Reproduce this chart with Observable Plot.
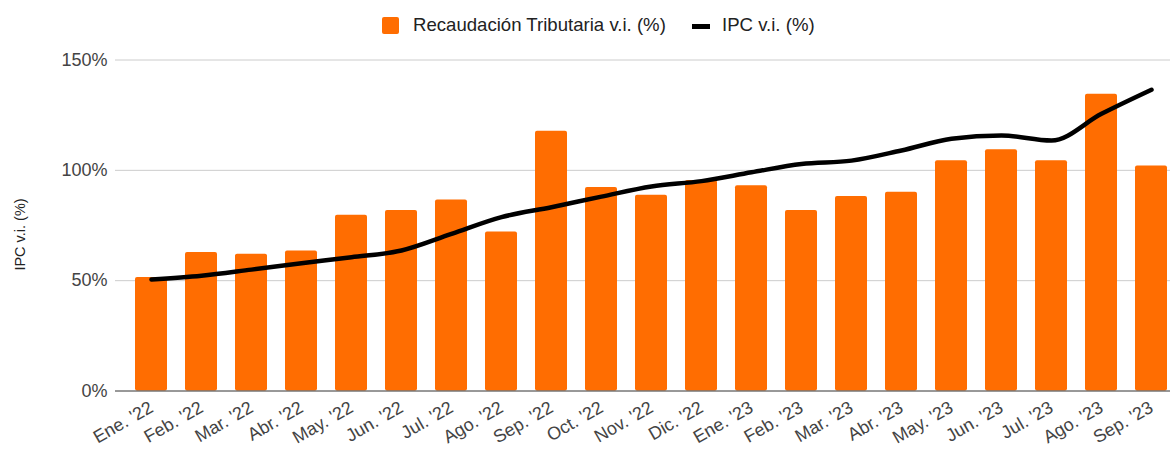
<!DOCTYPE html>
<html><head><meta charset="utf-8">
<script src="https://cdn.jsdelivr.net/npm/d3@7"></script>
<script src="https://cdn.jsdelivr.net/npm/@observablehq/plot@0.6"></script>
<style>
body{margin:0;background:#fff;font-family:Arial,"Liberation Sans",sans-serif;}
#legend{position:relative;height:40px;width:1170px;font-size:18.6px;color:#222;}
#legend .sw{position:absolute;}
#legend .tx{position:absolute;top:14px;line-height:22px;white-space:nowrap;}
#chart svg{display:block;}
</style></head><body>
<div id="legend">
  <div class="sw" style="left:382px;top:17px;width:17px;height:17px;background:#ff6d01;border-radius:2px;"></div>
  <div class="tx" style="left:413px;" id="l1"></div>
  <div class="sw" style="left:692px;top:24px;width:18px;height:5px;background:#000;"></div>
  <div class="tx" style="left:722px;" id="l2"></div>
</div>
<div id="chart"></div>
<script>
const meses = ["Ene. '22","Feb. '22","Mar. '22","Abr. '22","May. '22","Jun. '22","Jul. '22","Ago. '22","Sep. '22","Oct. '22","Nov. '22","Dic. '22","Ene. '23","Feb. '23","Mar. '23","Abr. '23","May. '23","Jun. '23","Jul. '23","Ago. '23","Sep. '23"];
const recaudacion = [51.4, 62.8, 62, 63.5, 79.7, 81.8, 86.6, 72, 117.7, 92.2, 88.7, 95.4, 93, 81.8, 88.1, 90.1, 104.3, 109.3, 104.3, 134.5, 102];
const ipc = [50.5, 52.2, 55, 57.9, 60.6, 63.7, 71.2, 78.8, 83.3, 88.1, 92.7, 95.1, 99.1, 102.9, 104.4, 109, 114.3, 115.8, 113.5, 125.6, 136.5];
const yTicks = [0, 50, 100, 150];
const serieBarras = "Recaudación Tributaria v.i. (%)";
const serieLinea = "IPC v.i. (%)";
const tituloY = "IPC v.i. (%)";

document.getElementById("l1").textContent = serieBarras;
document.getElementById("l2").textContent = serieLinea;

const data = meses.map((m, i) => ({mes: m, rec: recaudacion[i], ipc: ipc[i]}));

const chart = Plot.plot({
  width: 1170,
  height: 410,
  marginTop: 19.5,
  marginBottom: 59.5,
  marginLeft: 115,
  marginRight: 0,
  style: {fontFamily: "Arial, 'Liberation Sans', sans-serif", fontSize: "18px", color: "#444", background: "#fff"},
  x: {domain: meses, range: [126, 1176], paddingInner: 0.36, paddingOuter: 0.18, label: null},
  y: {domain: [0, 150], label: null},
  marks: [
    Plot.ruleY([50, 100, 150], {stroke: "#cccccc", strokeWidth: 1}),
    Plot.barY(data, {x: "mes", y: "rec", fill: "#ff6d01", rx: 2}),
    Plot.ruleY([0], {stroke: "#333", strokeWidth: 1}),
    Plot.line(data, {x: "mes", y: "ipc", stroke: "#000", strokeWidth: 4.5, curve: "monotone-x"}),
    Plot.axisY({ticks: yTicks, tickFormat: d => d + "%", tickSize: 0, tickPadding: 8, label: null, fill: "#444"}),
    Plot.axisX({tickSize: 0, tickPadding: 15, tickRotate: -30, label: null, fill: "#444"}),
    Plot.text([tituloY], {frameAnchor: "left", textAnchor: "middle", dx: -95, dy: 9, rotate: -90, fontSize: 14.5, fill: "#222"})
  ]
});
document.getElementById("chart").appendChild(chart);
</script>
</body></html>
